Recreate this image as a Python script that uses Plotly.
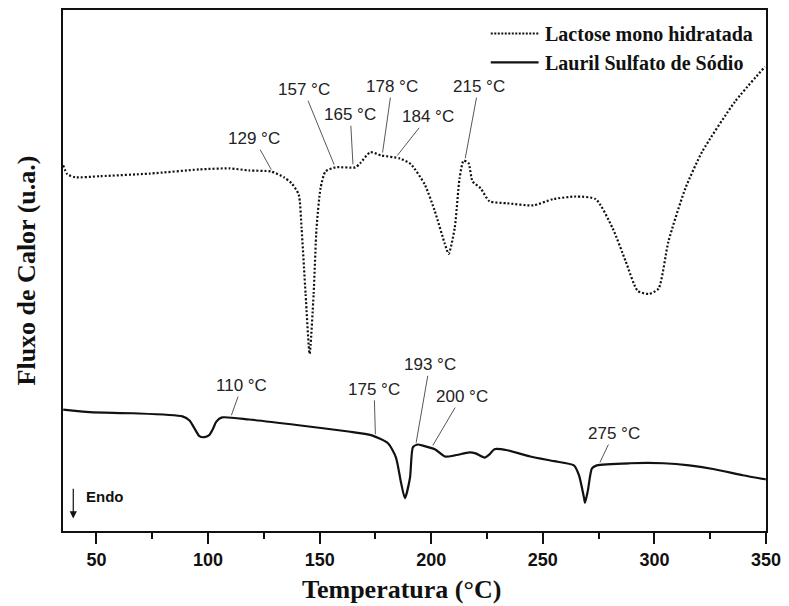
import numpy as np
import plotly.graph_objects as go

# DSC curves (heat flow, arbitrary units, endo down)
lactose_temp = [35.1, 36.9, 40.5, 51.6, 73.9, 96.1, 109.5, 118.4, 128.2, 134.0,
                137.5, 140.6, 141.9, 143.7, 145.5, 147.3, 148.6, 150.4, 152.6, 157.1,
                166.0, 168.2, 172.7, 177.5, 186.0, 190.9, 197.1, 201.6, 206.1, 207.8,
                210.5, 212.7, 214.5, 216.7, 218.5, 222.1, 226.1, 234.1, 245.7, 254.6,
                264.8, 273.7, 281.3, 287.1, 292.5, 297.4, 301.8, 306.3, 313.9, 321.4,
                336.1, 349.5]
lactose_flow = [70.2, 68.5, 67.9, 68.1, 68.6, 69.4, 69.6, 69.2, 69.0, 67.9,
                66.7, 64.6, 58.1, 45.5, 34.0, 45.5, 58.1, 65.8, 69.0, 69.8,
                69.8, 70.6, 72.7, 72.1, 71.5, 70.4, 66.5, 61.4, 55.1, 53.2,
                58.1, 67.7, 71.1, 70.6, 67.1, 65.8, 63.3, 62.9, 62.5, 63.7,
                64.2, 63.7, 58.1, 51.8, 46.1, 45.5, 46.5, 55.6, 65.8, 72.8,
                82.4, 89.1]

lauril_temp = [35.1, 47.1, 66.3, 88.5, 91.7, 93.9, 96.1, 98.3, 100.5, 102.3,
               103.7, 106.3, 118.4, 140.6, 162.9, 173.1, 180.7, 184.2, 186.5, 188.2,
               190.5, 191.8, 194.0, 196.2, 201.6, 206.1, 210.5, 217.2, 219.9, 223.9,
               226.1, 228.3, 234.1, 244.4, 255.0, 263.9, 266.2, 268.4, 268.9, 270.2,
               272.0, 274.2, 288.9, 304.0, 315.6, 326.3, 339.6, 349.9]
lauril_flow = [23.3, 22.8, 22.6, 22.0, 21.2, 19.7, 18.2, 18.0, 18.4, 19.7,
               21.0, 21.8, 21.4, 20.3, 19.1, 18.4, 16.8, 14.1, 9.2, 6.3,
               10.3, 16.1, 16.6, 16.4, 15.7, 14.3, 14.5, 15.1, 14.9, 14.1,
               14.7, 15.7, 15.5, 14.3, 13.4, 12.6, 10.7, 6.5, 5.4, 7.8,
               12.0, 12.6, 13.0, 13.0, 12.6, 11.9, 10.7, 9.9]

# Event temperatures marked on each curve
lactose_events = [129, 157, 165, 178, 184, 215]
lauril_events = [110, 175, 193, 200, 275]

x_ticks = [50, 100, 150, 200, 250, 300, 350]

# label centres (temperature, heat flow) for each event callout
lactose_label_pos = [(120.6, 75.3), (142.8, 84.7), (163.7, 79.9),
                     (182.4, 85.3), (198.5, 79.5), (221.2, 85.3)]
lauril_label_pos = [(115.2, 27.9), (174.4, 27.2), (199.3, 31.9),
                    (213.6, 25.8), (281.7, 18.7)]

SANS = "Liberation Sans, Arial, sans-serif"
SERIF = "Liberation Serif, Times New Roman, serif"
INK = "#111111"

fig = go.Figure()
fig.add_trace(go.Scatter(
    x=lactose_temp, y=lactose_flow, mode="lines", name="Lactose mono hidratada",
    line=dict(color=INK, width=2.2, dash="2px,2px", shape="spline", smoothing=0.6),
    showlegend=False))
fig.add_trace(go.Scatter(
    x=lauril_temp, y=lauril_flow, mode="lines", name="Lauril Sulfato de Sódio",
    line=dict(color=INK, width=2.2, shape="spline", smoothing=0.6),
    showlegend=False))

annotations = []
label_font = dict(family=SANS, size=17, color="#222222")


def add_callouts(events, positions, temps, flows):
    for t, (lx, ly) in zip(events, positions):
        yt = float(np.interp(t, temps, flows))
        annotations.append(dict(
            x=t, y=yt, xref="x", yref="y",
            ax=lx, ay=ly, axref="x", ayref="y",
            text=f"{t} °C", font=label_font,
            showarrow=True, arrowhead=0, arrowwidth=0.9, arrowcolor="#444444",
            standoff=3, borderpad=1))


add_callouts(lactose_events, lactose_label_pos, lactose_temp, lactose_flow)
add_callouts(lauril_events, lauril_label_pos, lauril_temp, lauril_flow)

# Endo direction marker
annotations.append(dict(
    x=39.6, y=2.4, xref="x", yref="y", ax=39.6, ay=8.4, axref="x", ayref="y",
    text="", showarrow=True, arrowhead=2, arrowsize=1.2, arrowwidth=1.2,
    arrowcolor=INK))
annotations.append(dict(
    x=44.6, y=6.6, xref="x", yref="y", text="<b>Endo</b>", showarrow=False,
    xanchor="left", yanchor="middle",
    font=dict(family=SANS, size=15, color=INK, weight="bold")))

# Legend drawn as line samples plus bold serif labels
legend_font = dict(family=SERIF, size=20, color=INK, weight="bold")
shapes = [
    dict(type="line", xref="paper", yref="paper", x0=0.6085, x1=0.6765, y0=0.955, y1=0.955,
         line=dict(color=INK, width=2, dash="2px,1.5px")),
    dict(type="line", xref="paper", yref="paper", x0=0.6085, x1=0.6765, y0=0.8995, y1=0.8995,
         line=dict(color=INK, width=2.2)),
]
annotations.append(dict(x=0.6825, y=0.953, xref="paper", yref="paper",
                        xanchor="left", yanchor="middle",
                        text="Lactose mono hidratada", showarrow=False, font=legend_font))
annotations.append(dict(x=0.6825, y=0.8975, xref="paper", yref="paper",
                        xanchor="left", yanchor="middle",
                        text="Lauril Sulfato de Sódio", showarrow=False, font=legend_font))

# Axis title for temperature
annotations.append(dict(x=0.482, y=-0.113, xref="paper", yref="paper",
                        xanchor="center", yanchor="middle", showarrow=False,
                        text="Temperatura (°C)",
                        font=dict(family=SERIF, size=26, color=INK, weight="bold")))

fig.update_layout(
    width=789, height=606,
    margin=dict(l=63, r=18, t=8, b=75),
    paper_bgcolor="white", plot_bgcolor="white",
    annotations=annotations, shapes=shapes,
    xaxis=dict(
        range=[35, 350], tickvals=x_ticks, ticktext=[f"<b>{v}</b>" for v in x_ticks],
        ticks="outside", ticklen=11, tickwidth=2, tickcolor=INK,
        showline=True, linewidth=2.2, linecolor=INK, mirror=True,
        showgrid=False, zeroline=False,
        tickfont=dict(family=SANS, size=18, color=INK, weight="bold"),
        minor=dict(dtick=25, tick0=25, ticks="outside", ticklen=6, tickwidth=2,
                   tickcolor=INK, showgrid=False),
    ),
    yaxis=dict(
        range=[0, 100], showticklabels=False, ticks="",
        showline=True, linewidth=2.2, linecolor=INK, mirror=True,
        showgrid=False, zeroline=False,
        title=dict(text="Fluxo de Calor (u.a.)", standoff=18,
                   font=dict(family=SERIF, size=26, color=INK, weight="bold")),
    ),
)

fig.write_html("out.html")
